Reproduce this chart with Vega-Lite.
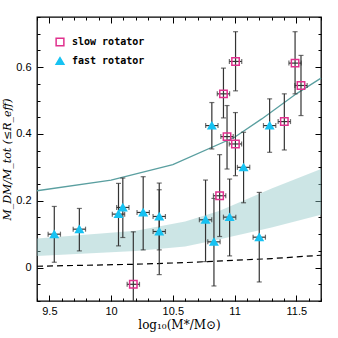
{
  "$schema": "https://vega.github.io/schema/vega-lite/v6.json",
  "autosize": "none",
  "width": 284,
  "height": 284,
  "padding": {"left": 37, "top": 17, "right": 17, "bottom": 37},
  "background": "white",
  "config": {
    "view": {"stroke": "black", "strokeWidth": 1.3},
    "axis": {"domain": false, "grid": false, "zindex": 1, "labelFont": "Liberation Sans", "labelFontSize": 11, "labelColor": "black", "tickColor": "black", "tickWidth": 1, "titleColor": "black"}
  },
  "datasets": {
    "pts": [
      {"x": 9.54, "y": 0.10, "ylo": 0.016, "yhi": 0.183, "type": "fast rotator"},
      {"x": 9.743, "y": 0.115, "ylo": 0.05, "yhi": 0.177, "type": "fast rotator"},
      {"x": 10.06, "y": 0.16, "ylo": 0.065, "yhi": 0.252, "type": "fast rotator"},
      {"x": 10.095, "y": 0.18, "ylo": 0.09, "yhi": 0.268, "type": "fast rotator"},
      {"x": 10.26, "y": 0.165, "ylo": 0.053, "yhi": 0.272, "type": "fast rotator"},
      {"x": 10.39, "y": 0.153, "ylo": 0.053, "yhi": 0.253, "type": "fast rotator"},
      {"x": 10.39, "y": 0.108, "ylo": -0.021, "yhi": 0.233, "type": "fast rotator"},
      {"x": 10.765, "y": 0.143, "ylo": 0.018, "yhi": 0.262, "type": "fast rotator"},
      {"x": 10.833, "y": 0.077, "ylo": -0.055, "yhi": 0.207, "type": "fast rotator"},
      {"x": 10.816, "y": 0.425, "ylo": 0.355, "yhi": 0.494, "type": "fast rotator"},
      {"x": 10.96, "y": 0.151, "ylo": 0.035, "yhi": 0.265, "type": "fast rotator"},
      {"x": 11.073, "y": 0.30, "ylo": 0.194, "yhi": 0.405, "type": "fast rotator"},
      {"x": 11.2, "y": 0.091, "ylo": -0.043, "yhi": 0.225, "type": "fast rotator"},
      {"x": 11.284, "y": 0.425, "ylo": 0.345, "yhi": 0.505, "type": "fast rotator"},
      {"x": 10.18, "y": -0.05, "ylo": -0.2, "yhi": 0.107, "type": "slow rotator"},
      {"x": 10.879, "y": 0.215, "ylo": 0.093, "yhi": 0.338, "type": "slow rotator"},
      {"x": 10.91, "y": 0.52, "ylo": 0.448, "yhi": 0.597, "type": "slow rotator"},
      {"x": 10.939, "y": 0.392, "ylo": 0.295, "yhi": 0.485, "type": "slow rotator"},
      {"x": 11.007, "y": 0.37, "ylo": 0.275, "yhi": 0.464, "type": "slow rotator"},
      {"x": 11.008, "y": 0.617, "ylo": 0.529, "yhi": 0.706, "type": "slow rotator"},
      {"x": 11.403, "y": 0.437, "ylo": 0.352, "yhi": 0.52, "type": "slow rotator"},
      {"x": 11.49, "y": 0.612, "ylo": 0.52, "yhi": 0.706, "type": "slow rotator"},
      {"x": 11.538, "y": 0.545, "ylo": 0.455, "yhi": 0.635, "type": "slow rotator"}
    ],
    "band": [
      {"x": 9.4, "lo": 0.035, "hi": 0.087},
      {"x": 10.2, "lo": 0.05, "hi": 0.11},
      {"x": 10.6, "lo": 0.063, "hi": 0.138},
      {"x": 10.88, "lo": 0.085, "hi": 0.17},
      {"x": 11.3, "lo": 0.12, "hi": 0.237},
      {"x": 11.7, "lo": 0.158, "hi": 0.295}
    ],
    "teal": [
      {"x": 9.4, "y": 0.23},
      {"x": 10.0, "y": 0.262},
      {"x": 10.5, "y": 0.308},
      {"x": 11.0, "y": 0.39},
      {"x": 11.22, "y": 0.445},
      {"x": 11.5, "y": 0.52},
      {"x": 11.7, "y": 0.567}
    ],
    "dash": [
      {"x": 9.4, "y": 0.004},
      {"x": 10.2, "y": 0.01},
      {"x": 10.6, "y": 0.015},
      {"x": 10.9, "y": 0.02},
      {"x": 11.3, "y": 0.027},
      {"x": 11.7, "y": 0.037}
    ]
  },
  "resolve": {"axis": {"x": "independent", "y": "independent"}},
  "layer": [
    {
      "data": {"name": "band"},
      "mark": {"type": "area", "fill": "#8fc6c6", "opacity": 0.45},
      "encoding": {
        "x": {"field": "x", "type": "quantitative", "scale": {"domain": [9.4, 11.7], "nice": false, "zero": false},
          "axis": {"orient": "bottom", "values": [9.4,9.5,9.6,9.7,9.8,9.9,10,10.1,10.2,10.3,10.4,10.5,10.6,10.7,10.8,10.9,11,11.1,11.2,11.3,11.4,11.5,11.6,11.7],
            "tickSize": {"condition": {"test": "abs(datum.value*2-round(datum.value*2))<0.001", "value": -6}, "value": -3},
            "labelPadding": 10,
            "labelExpr": "abs(datum.value*2-round(datum.value*2))<0.001 ? format(datum.value, '') : ''",
            "title": "log₁₀(M*/M⊙)", "titleFont": "DejaVu Serif", "titleFontSize": 12, "titleFontWeight": "normal", "titlePadding": 3}},
        "y": {"field": "lo", "type": "quantitative", "scale": {"domain": [-0.1, 0.75], "nice": false, "zero": false},
          "axis": {"orient": "left", "values": [-0.1,-0.05,0,0.05,0.1,0.15,0.2,0.25,0.3,0.35,0.4,0.45,0.5,0.55,0.6,0.65,0.7,0.75],
            "tickSize": {"condition": {"test": "abs(datum.value*5-round(datum.value*5))<0.001", "value": -6}, "value": -3},
            "labelPadding": 12,
            "labelExpr": "abs(datum.value*5-round(datum.value*5))<0.001 ? format(datum.value, '') : ''",
            "title": "M_DM/M_tot (≤R_eff)", "titleFont": "DejaVu Serif", "titleFontSize": 11, "titleFontWeight": "normal", "titleFontStyle": "italic", "titlePadding": 3}},
        "y2": {"field": "hi"}
      }
    },
    {
      "data": {"name": "teal"},
      "mark": {"type": "line", "color": "#5a9fa0", "strokeWidth": 1.3},
      "encoding": {
        "x": {"field": "x", "type": "quantitative", "scale": {"domain": [9.4, 11.7], "nice": false, "zero": false},
          "axis": {"orient": "top", "values": [9.4,9.5,9.6,9.7,9.8,9.9,10,10.1,10.2,10.3,10.4,10.5,10.6,10.7,10.8,10.9,11,11.1,11.2,11.3,11.4,11.5,11.6,11.7],
            "tickSize": {"condition": {"test": "abs(datum.value*2-round(datum.value*2))<0.001", "value": -6}, "value": -3},
            "labels": false, "title": null}},
        "y": {"field": "y", "type": "quantitative", "scale": {"domain": [-0.1, 0.75], "nice": false, "zero": false},
          "axis": {"orient": "right", "values": [-0.1,-0.05,0,0.05,0.1,0.15,0.2,0.25,0.3,0.35,0.4,0.45,0.5,0.55,0.6,0.65,0.7,0.75],
            "tickSize": {"condition": {"test": "abs(datum.value*5-round(datum.value*5))<0.001", "value": -6}, "value": -3},
            "labels": false, "title": null}}
      }
    },
    {
      "data": {"name": "dash"},
      "mark": {"type": "line", "color": "black", "strokeWidth": 1.2, "strokeDash": [6, 4]},
      "encoding": {
        "x": {"field": "x", "type": "quantitative", "scale": {"domain": [9.4, 11.7], "nice": false, "zero": false}, "axis": null},
        "y": {"field": "y", "type": "quantitative", "scale": {"domain": [-0.1, 0.75], "nice": false, "zero": false}, "axis": null}
      }
    },
    {
      "mark": {"type": "rule", "color": "black", "strokeWidth": 1, "strokeDash": [1, 2]},
      "encoding": {
        "y": {"datum": 0, "type": "quantitative", "scale": {"domain": [-0.1, 0.75], "nice": false, "zero": false}, "axis": null}
      }
    },
    {
      "mark": {"type": "rule", "color": "black", "strokeWidth": 1, "strokeDash": [1, 2]},
      "encoding": {
        "x": {"datum": 11.1, "type": "quantitative", "scale": {"domain": [9.4, 11.7], "nice": false, "zero": false}, "axis": null},
        "y": {"datum": 0.65, "type": "quantitative", "scale": {"domain": [-0.1, 0.75], "nice": false, "zero": false}, "axis": null},
        "y2": {"datum": 0.75}
      }
    },
    {
      "mark": {"type": "text", "text": "L*", "font": "DejaVu Serif", "fontStyle": "italic", "fontSize": 11, "align": "left", "baseline": "middle", "color": "black"},
      "encoding": {
        "x": {"datum": 11.135, "type": "quantitative", "scale": {"domain": [9.4, 11.7], "nice": false, "zero": false}, "axis": null},
        "y": {"datum": 0.712, "type": "quantitative", "scale": {"domain": [-0.1, 0.75], "nice": false, "zero": false}, "axis": null}
      }
    },
    {
      "data": {"name": "pts"},
      "transform": [{"calculate": "datum.x - 0.05", "as": "xlo"}, {"calculate": "datum.x + 0.05", "as": "xhi"}],
      "layer": [
        {"mark": {"type": "rule", "color": "#333333", "strokeWidth": 1.2, "clip": true},
         "encoding": {"x": {"field": "x", "type": "quantitative", "scale": {"domain": [9.4, 11.7], "nice": false, "zero": false}, "axis": null},
                      "y": {"field": "ylo", "type": "quantitative", "scale": {"domain": [-0.1, 0.75], "nice": false, "zero": false}, "axis": null},
                      "y2": {"field": "yhi"}}},
        {"mark": {"type": "tick", "orient": "horizontal", "color": "#333333", "size": 5, "thickness": 1.2, "clip": true},
         "encoding": {"x": {"field": "x", "type": "quantitative", "scale": {"domain": [9.4, 11.7], "nice": false, "zero": false}, "axis": null},
                      "y": {"field": "ylo", "type": "quantitative", "scale": {"domain": [-0.1, 0.75], "nice": false, "zero": false}, "axis": null}}},
        {"mark": {"type": "tick", "orient": "horizontal", "color": "#333333", "size": 5, "thickness": 1.2, "clip": true},
         "encoding": {"x": {"field": "x", "type": "quantitative", "scale": {"domain": [9.4, 11.7], "nice": false, "zero": false}, "axis": null},
                      "y": {"field": "yhi", "type": "quantitative", "scale": {"domain": [-0.1, 0.75], "nice": false, "zero": false}, "axis": null}}},
        {"mark": {"type": "rule", "color": "#333333", "strokeWidth": 1.2},
         "encoding": {"x": {"field": "xlo", "type": "quantitative", "scale": {"domain": [9.4, 11.7], "nice": false, "zero": false}, "axis": null},
                      "x2": {"field": "xhi"},
                      "y": {"field": "y", "type": "quantitative", "scale": {"domain": [-0.1, 0.75], "nice": false, "zero": false}, "axis": null}}},
        {"mark": {"type": "tick", "orient": "vertical", "color": "#333333", "size": 5, "thickness": 1.2},
         "encoding": {"x": {"field": "xlo", "type": "quantitative", "scale": {"domain": [9.4, 11.7], "nice": false, "zero": false}, "axis": null},
                      "y": {"field": "y", "type": "quantitative", "scale": {"domain": [-0.1, 0.75], "nice": false, "zero": false}, "axis": null}}},
        {"mark": {"type": "tick", "orient": "vertical", "color": "#333333", "size": 5, "thickness": 1.2},
         "encoding": {"x": {"field": "xhi", "type": "quantitative", "scale": {"domain": [9.4, 11.7], "nice": false, "zero": false}, "axis": null},
                      "y": {"field": "y", "type": "quantitative", "scale": {"domain": [-0.1, 0.75], "nice": false, "zero": false}, "axis": null}}},
        {"mark": {"type": "point", "opacity": 1, "strokeWidth": 1.5, "size": 55},
         "encoding": {"x": {"field": "x", "type": "quantitative", "scale": {"domain": [9.4, 11.7], "nice": false, "zero": false}, "axis": null},
                      "y": {"field": "y", "type": "quantitative", "scale": {"domain": [-0.1, 0.75], "nice": false, "zero": false}, "axis": null},
                      "shape": {"field": "type", "type": "nominal", "scale": {"domain": ["slow rotator", "fast rotator"], "range": ["square", "triangle-up"]},
                        "legend": {"orient": "none", "legendX": 18, "legendY": 20, "title": null, "labelFont": "DejaVu Sans Mono", "labelFontSize": 10, "labelFontWeight": "bold", "labelColor": "black", "rowPadding": 5, "labelOffset": 7, "symbolSize": 60, "symbolStrokeWidth": 1.5, "padding": 0}},
                      "fill": {"field": "type", "type": "nominal", "scale": {"domain": ["slow rotator", "fast rotator"], "range": ["transparent", "#17c2f2"]},
                        "legend": {"orient": "none", "legendX": 18, "legendY": 20, "title": null, "labelFont": "DejaVu Sans Mono", "labelFontSize": 10, "labelFontWeight": "bold", "labelColor": "black", "rowPadding": 5, "labelOffset": 7, "symbolSize": 60, "symbolStrokeWidth": 1.5, "padding": 0}},
                      "stroke": {"field": "type", "type": "nominal", "scale": {"domain": ["slow rotator", "fast rotator"], "range": ["#e0318e", "#17c2f2"]},
                        "legend": {"orient": "none", "legendX": 18, "legendY": 20, "title": null, "labelFont": "DejaVu Sans Mono", "labelFontSize": 10, "labelFontWeight": "bold", "labelColor": "black", "rowPadding": 5, "labelOffset": 7, "symbolSize": 60, "symbolStrokeWidth": 1.5, "padding": 0}}}}
      ]
    }
  ]
}
